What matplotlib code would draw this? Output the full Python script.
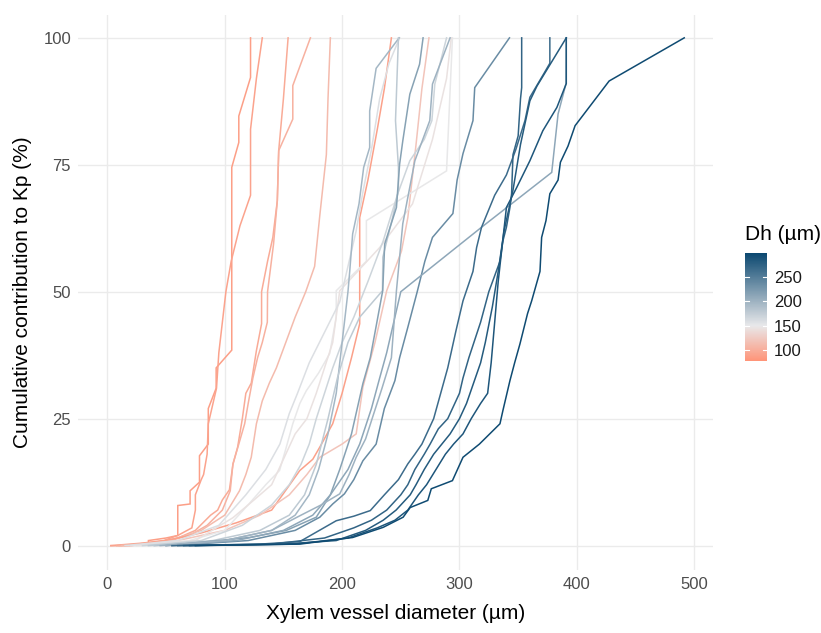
import matplotlib.pyplot as plt
from matplotlib.colors import LinearSegmentedColormap, Normalize
from matplotlib.cm import ScalarMappable

plt.rcParams['font.family'] = ['Liberation Sans', 'DejaVu Sans']

# hydraulic diameter of each sample (colour)
dh = [88, 91, 98, 103, 112, 90, 120,
      150, 145, 158, 168,
      195, 178, 215, 235, 210, 200,
      265, 272, 280, 285, 295]

# vessel diameter (um) per curve
diam = [
    [3, 20, 35, 35, 50, 60, 60, 70.5, 70.5, 78.5, 78.5, 86, 86, 92.7, 92.7, 106, 106, 112, 112, 122, 122],
    [3, 30, 48, 60, 72, 75, 75, 80, 82, 85, 86, 90, 93, 95, 98, 101, 105.5, 113, 122, 122, 127, 132],
    [8, 40, 60, 75, 88, 94, 98, 104, 107, 111, 115, 118, 122.6, 127, 131.4, 131.4, 136.5, 141, 144.8, 146, 150, 154],
    [10, 45, 70, 85, 98, 104.7, 107, 112, 117, 120, 124, 128, 132, 136.3, 136.5, 141.6, 144.8, 146, 158, 158, 173],
    [12, 50, 80, 100, 112.6, 118, 122.6, 127, 132, 138, 144, 152, 160, 169, 176.6, 181, 186.6, 188, 190],
    [15, 50, 80, 110, 140, 164, 175, 181, 192, 200, 208, 215, 215, 222, 230, 236, 242],
    [20, 60, 100, 130, 155, 170, 181, 200, 212, 217.7, 228, 238, 250.6, 256, 263, 268, 274],
    [20, 70, 100, 121, 135, 146.7, 152, 158, 164, 169.5, 180, 189.4, 195, 195, 220.7, 220.7, 289, 294],
    [25, 75, 107, 125, 140, 150, 160, 170, 178, 185, 192, 198, 232, 260, 277, 289, 293],
    [15, 60, 95, 118, 135, 147, 155, 162, 172, 185, 198, 205, 212, 218, 225, 232, 240, 249],
    [30, 80, 115, 140, 155, 165, 172, 178, 185, 192, 200, 210, 222, 235, 247.4, 257.7, 270, 276.5, 279, 289],
    [40, 100, 140, 160, 172, 180, 188, 195, 200, 205, 206.5, 209, 214.4, 218.4, 223.5, 223.5, 229, 248.6],
    [35, 90, 130, 155, 168, 178, 188, 196, 205, 215, 234.4, 234.7, 243, 248, 248, 245.5, 248],
    [50, 121, 152.5, 178, 190, 198, 208, 217.7, 224, 227.8, 234.6, 236.3, 246.3, 249, 251.7, 257.7, 266, 269],
    [55, 120, 160, 181, 192, 202, 210, 217.7, 229, 236, 245, 249, 256, 264, 270.5, 277, 294.4, 298, 303, 311.5, 313, 342.6],
    [50, 110, 150, 175, 190, 205, 215, 225, 232, 238, 244, 250, 318.8, 378.6, 384, 390.8, 391],
    [45, 100, 140, 165, 182, 198, 206, 212, 220, 226, 234, 242, 246.3, 251.7, 262, 274.7, 277, 292],
    [55, 130, 164, 195, 210, 224, 236, 248, 256, 262, 268, 278, 284, 290, 297, 303, 311.5, 314.6, 318.8, 330, 340, 348, 355.8, 360, 372, 377, 377],
    [60, 140, 185, 210, 225, 238, 250, 256, 262, 270, 275, 282, 290, 300, 303, 308, 318, 325, 328.5, 334.5, 337, 340, 343, 344.4, 345.6, 350, 352, 353, 353],
    [65, 150, 195, 220, 235, 246, 258, 263, 270, 278, 285, 292, 300, 306, 312, 318, 322, 328, 333, 338, 345.6, 352, 360, 366, 391],
    [70, 160, 205, 230, 245, 256, 265, 272, 280, 288, 295, 303, 310, 318, 324, 327, 330, 333, 340, 348.7, 360, 371, 383, 391, 391],
    [75, 164, 209, 235, 252, 258, 273, 276, 294, 303, 317, 334.5, 337, 343, 347, 351.5, 358, 361.5, 368.6, 370, 373.7, 377, 384, 386, 392.5, 398.5, 427.5, 491.5],
]

# cumulative contribution to Kp (%) per curve
contrib = [
    [0, 0, 0.5, 1, 1.5, 2, 7.9, 8.2, 10.8, 12.5, 17.7, 20, 27, 31, 35, 38.5, 74.5, 79.4, 84.6, 92.2, 100],
    [0, 0.5, 1, 2, 3.5, 7, 10, 13, 14, 18, 24, 28, 31, 38, 44, 50, 56, 63, 69, 82, 92, 100],
    [0, 0.5, 1.5, 3, 6, 7, 9, 11, 16, 19.4, 25, 30, 32, 38.4, 43.7, 50, 56, 60.7, 67.9, 77.8, 88, 100],
    [0, 0.5, 2, 4, 7, 10.8, 16.1, 20, 24, 28, 33, 37, 40, 44, 50, 59.4, 67.9, 77.8, 84, 90.6, 100],
    [0, 0.8, 3, 6, 10.8, 14, 17.4, 24, 28.5, 32, 35, 40, 45, 50, 55, 65, 77, 88, 100],
    [0, 1, 2.5, 4.5, 7, 14.8, 17, 19.4, 24, 30, 37, 43.7, 64.6, 72, 82, 90, 100],
    [0, 1, 3, 6, 10, 14, 17.4, 20, 22, 31.2, 40, 50.2, 58, 64.6, 79, 90, 100],
    [0, 1, 3, 8.3, 12, 14.8, 19, 24, 28, 30.5, 34, 37.8, 45, 50.2, 56, 64, 73.8, 100],
    [0, 1, 5.5, 9, 12, 17, 22, 25, 30, 35, 40, 50.2, 58.7, 67.3, 80, 92, 100],
    [0, 1, 4, 10, 15, 20, 26, 30, 36, 42, 48, 55, 62, 70, 78, 88, 95, 100],
    [0, 1, 4, 8, 12, 16, 20, 25, 30, 35, 40, 45, 52, 60, 69.3, 75.8, 80, 83.7, 90.9, 100],
    [0, 1, 3, 6, 10, 15, 22, 30, 40, 50, 54, 61.4, 67.3, 74.5, 78.4, 85.6, 94, 100],
    [0, 1, 3, 6, 10, 16, 25, 33, 40, 45, 50.2, 56.8, 64.6, 69.9, 74.5, 83.7, 100],
    [0, 1.6, 3, 5.6, 10, 15, 22, 31.9, 37, 41.7, 50.2, 59.4, 66.6, 75.1, 79.7, 88.9, 94.8, 100],
    [0, 1, 3, 5.6, 8.2, 10.2, 13, 16.7, 20, 27, 32.5, 37, 43, 50, 56, 60.7, 65.4, 72, 77.2, 83.7, 90.2, 100],
    [0, 1, 3, 6, 10, 15, 20, 27, 33, 38, 44, 50, 62.7, 73.5, 85, 91, 100],
    [0, 1, 3, 6, 8, 10.2, 14, 17.4, 21, 25.3, 31, 37, 50.2, 63.4, 75.8, 83.7, 90.9, 100],
    [0, 0.3, 0.8, 4.9, 5.8, 6.9, 10, 13, 16.1, 18, 20, 25, 30, 35, 42.3, 48.2, 54, 58.7, 62.7, 69, 73, 78, 83.7, 88.3, 93, 95, 100],
    [0, 0.3, 1.5, 3.5, 5, 7, 10, 12, 15, 18, 20, 23, 25, 30, 33, 37, 44, 50, 52.2, 56, 60, 62.7, 66.6, 69.3, 77, 80.7, 88, 90.2, 100],
    [0, 0.3, 1, 3, 5, 7, 10, 12, 15, 18, 20, 22, 25, 28, 32, 36, 40, 47, 54, 62, 70, 79, 87.6, 90.5, 100],
    [0, 0.3, 1.5, 3.5, 5, 7, 10, 12, 15, 18, 20, 22, 25, 28, 30, 36, 44, 52, 66.6, 70.5, 75.8, 81.7, 86.3, 91, 100],
    [0, 0.3, 1.6, 3.6, 5.6, 7.5, 8.9, 11.2, 12.8, 17.4, 20, 24, 26.6, 32.5, 36, 39.7, 45.7, 48.2, 54, 60.7, 64, 69.3, 72, 75.5, 78.7, 82.7, 91.5, 100],
]

cmap = LinearSegmentedColormap.from_list(
    'dh', [(0, '#FF9478'), (0.327, '#E8E8EA'), (1, '#0B4870')])
norm = Normalize(78, 298)

fig = plt.figure(figsize=(8.21, 6.33), dpi=100)
ax = fig.add_axes([78/821, 1-570/633, 635/821, 555/633])

for d, xs, ys in zip(dh, diam, contrib):
    ax.plot(xs, ys, color=cmap(norm(d)), lw=1.1, solid_joinstyle='miter')

ax.set_xlim(-25, 516)
ax.set_ylim(-4.8, 104.5)
ax.set_xticks([0, 100, 200, 300, 400, 500])
ax.set_yticks([0, 25, 50, 75, 100])
ax.grid(color='#EBEBEB', lw=1.0)
ax.set_axisbelow(True)
for s in ax.spines.values():
    s.set_visible(False)
ax.tick_params(length=0, labelsize=12, labelcolor='#4D4D4D', pad=5)
ax.set_xlabel('Xylem vessel diameter (µm)', fontsize=15, labelpad=9)
ax.set_ylabel('Cumulative contribution to Kp (%)', fontsize=15, labelpad=8)

# colour bar legend
cax = fig.add_axes([745/821, 1-361/633, 22/821, 108/633])
cb = fig.colorbar(ScalarMappable(norm=norm, cmap=cmap), cax=cax,
                  ticks=[100, 150, 200, 250])
cb.outline.set_visible(False)
cax.tick_params(length=0, labelsize=12, labelcolor='#1A1A1A', pad=5)
for v in [100, 150, 200, 250]:
    cax.plot([0, 0.2], [v, v], color='white', lw=0.8)
    cax.plot([0.8, 1], [v, v], color='white', lw=0.8)
fig.text(745/821, 1-235/633, 'Dh (µm)', fontsize=15, va='center', ha='left')

fig.savefig('out.png', dpi=100)
